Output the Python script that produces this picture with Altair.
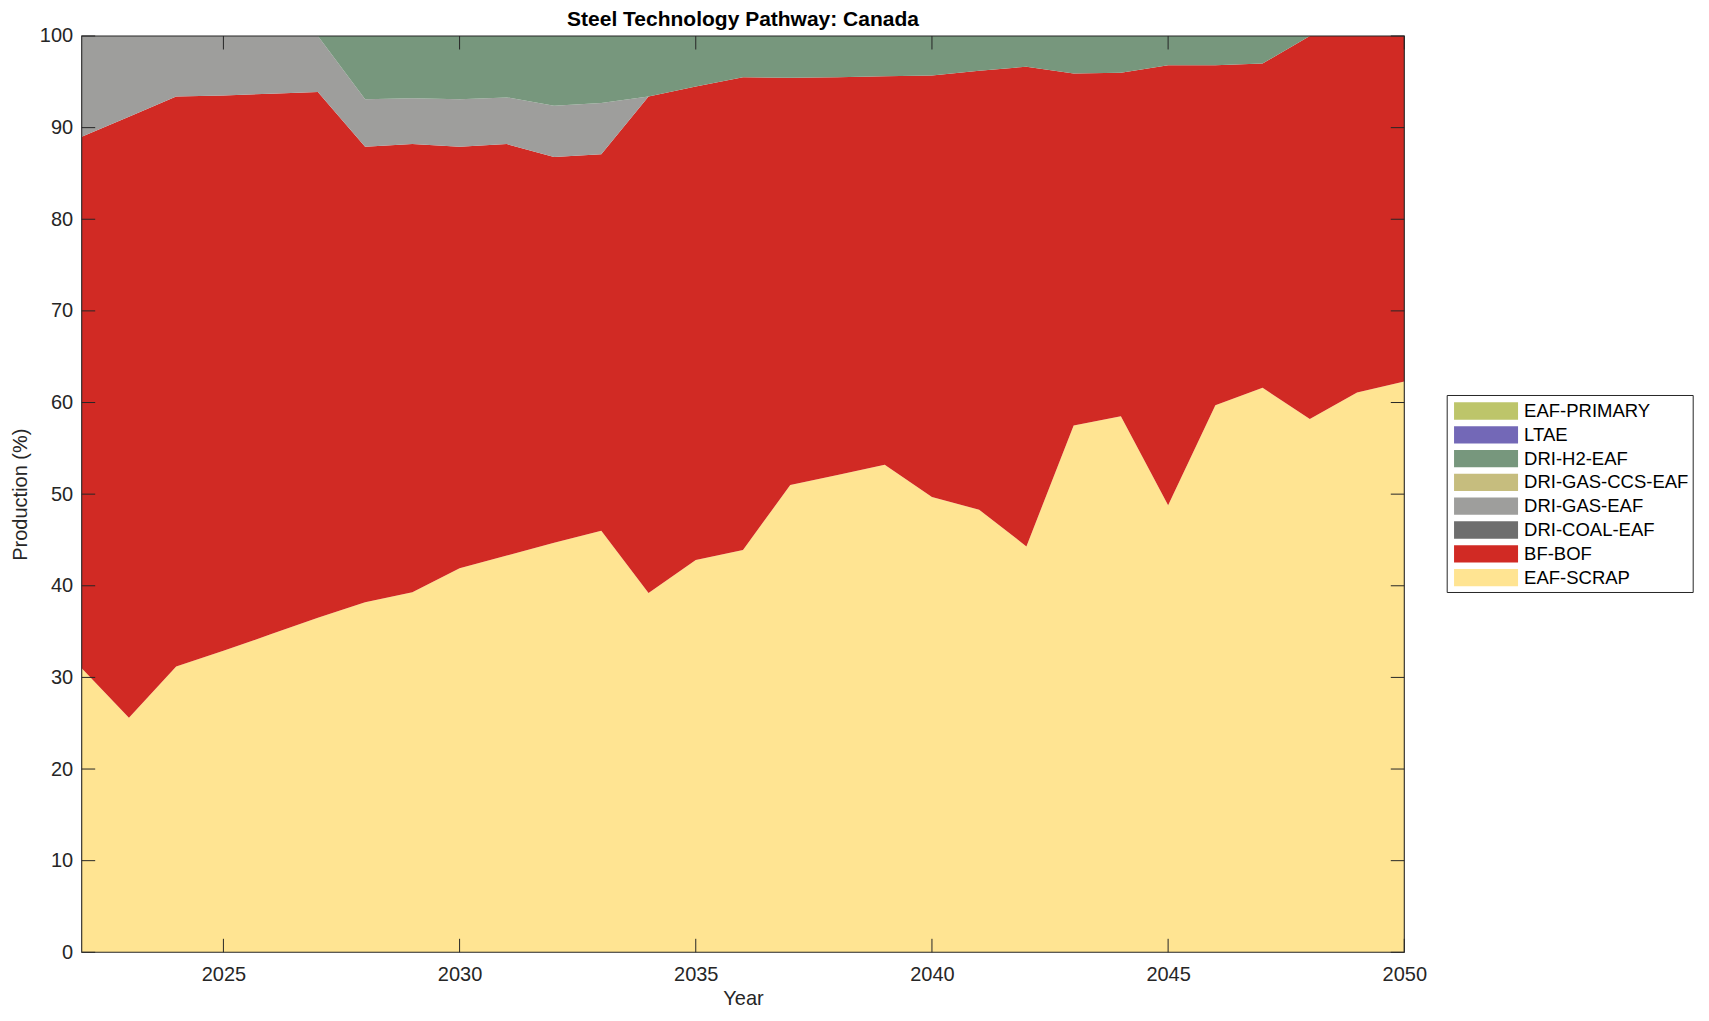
import altair as alt
import pandas as pd

years = list(range(2022, 2051))

techs = ["EAF-PRIMARY", "LTAE", "DRI-H2-EAF", "DRI-GAS-CCS-EAF",
         "DRI-GAS-EAF", "DRI-COAL-EAF", "BF-BOF", "EAF-SCRAP"]
colors = ["#bdc56a", "#7368b7", "#77977d", "#c6bd7e",
          "#9e9e9c", "#6e6e6e", "#d12a24", "#ffe492"]

eaf_scrap = [31.0, 25.6, 31.2, 32.9, 34.7, 36.5, 38.2, 39.3, 41.9, 43.3,
             44.7, 46.0, 39.2, 42.8, 43.9, 51.0, 52.1, 53.2, 49.7, 48.3,
             44.3, 57.5, 58.5, 48.8, 59.7, 61.6, 58.2, 61.1, 62.3]
bf_bof = [58.0, 65.6, 62.2, 60.6, 59.0, 57.4, 49.7, 48.9, 46.0, 44.9,
          42.1, 41.1, 54.2, 51.7, 51.6, 44.45, 43.4, 42.4, 46.0, 47.9,
          52.35, 38.4, 37.5, 48.0, 37.1, 35.4, 41.8, 38.9, 37.7]
dri_coal_eaf = [0, 0, 0, 0, 0, 0, 0, 0, 0, 0, 0, 0, 0, 0, 0,
                0, 0, 0, 0, 0, 0, 0, 0, 0, 0, 0, 0, 0, 0]
dri_gas_eaf = [11.0, 8.8, 6.6, 6.5, 6.3, 6.1, 5.2, 5.0, 5.2, 5.1,
               5.6, 5.6, 0, 0, 0, 0, 0, 0, 0, 0,
               0, 0, 0, 0, 0, 0, 0, 0, 0]
dri_gas_ccs_eaf = [0, 0, 0, 0, 0, 0, 0, 0, 0, 0, 0, 0, 0, 0, 0,
                   0, 0, 0, 0, 0, 0, 0, 0, 0, 0, 0, 0, 0, 0]
dri_h2_eaf = [0, 0, 0, 0, 0, 0, 6.9, 6.8, 6.9, 6.7,
              7.6, 7.3, 6.6, 5.5, 4.5, 4.55, 4.5, 4.4, 4.3, 3.8,
              3.35, 4.1, 4.0, 3.2, 3.2, 3.0, 0, 0, 0]
ltae = [0, 0, 0, 0, 0, 0, 0, 0, 0, 0, 0, 0, 0, 0, 0,
        0, 0, 0, 0, 0, 0, 0, 0, 0, 0, 0, 0, 0, 0]
eaf_primary = [0, 0, 0, 0, 0, 0, 0, 0, 0, 0, 0, 0, 0, 0, 0,
               0, 0, 0, 0, 0, 0, 0, 0, 0, 0, 0, 0, 0, 0]

x_tick_values = [2025, 2030, 2035, 2040, 2045, 2050]
y_tick_values = [0, 10, 20, 30, 40, 50, 60, 70, 80, 90, 100]

series = {
    "EAF-SCRAP": eaf_scrap,
    "BF-BOF": bf_bof,
    "DRI-COAL-EAF": dri_coal_eaf,
    "DRI-GAS-EAF": dri_gas_eaf,
    "DRI-GAS-CCS-EAF": dri_gas_ccs_eaf,
    "DRI-H2-EAF": dri_h2_eaf,
    "LTAE": ltae,
    "EAF-PRIMARY": eaf_primary,
}
stack_order = ["EAF-SCRAP", "BF-BOF", "DRI-COAL-EAF", "DRI-GAS-EAF",
               "DRI-GAS-CCS-EAF", "DRI-H2-EAF", "LTAE", "EAF-PRIMARY"]

rows = []
for name in stack_order:
    for yr, v in zip(years, series[name]):
        rows.append({"year": yr, "tech": name, "value": v,
                     "order": stack_order.index(name)})
df = pd.DataFrame(rows)

W = 1322.6
H = 916.3
TICK = 13.5
FONT = "Liberation Sans"
AX = "#262626"

xscale = alt.Scale(domain=[2022, 2050], nice=False, zero=False)
yscale = alt.Scale(domain=[0, 100], nice=False)

xaxis = alt.Axis(values=x_tick_values, format="d", title="Year",
                 ticks=False, tickSize=0, domain=False, grid=False,
                 labelFontSize=20, labelPadding=12, labelColor=AX,
                 labelFont=FONT, titleFont=FONT, titleFontSize=20,
                 titleFontWeight="normal", titleColor=AX,
                 titlePadding=4, labelFlush=False)
yaxis = alt.Axis(values=y_tick_values, format="d", title="Production (%)",
                 ticks=False, tickSize=0, domain=False, grid=False,
                 labelFontSize=20, labelPadding=9, labelColor=AX,
                 labelFont=FONT, titleFont=FONT, titleFontSize=20,
                 titleFontWeight="normal", titleColor=AX,
                 titlePadding=9, labelFlush=False)

area = alt.Chart(df).mark_area(opacity=1, interpolate="linear").encode(
    x=alt.X("year:Q", scale=xscale, axis=xaxis),
    y=alt.Y("value:Q", stack="zero", scale=yscale, axis=yaxis),
    color=alt.Color("tech:N", sort=techs,
                    scale=alt.Scale(domain=techs, range=colors),
                    legend=alt.Legend(title=None, orient="none",
                                      legendX=1365, legendY=359)),
    order=alt.Order("order:Q", sort="ascending"),
)

xt = pd.DataFrame({"t": x_tick_values})
yt = pd.DataFrame({"t": y_tick_values})

bottom_ticks = alt.Chart(xt).mark_rule(color=AX, strokeWidth=1).encode(
    x=alt.X("t:Q", scale=xscale, axis=xaxis),
    y=alt.value(H), y2=alt.value(H - TICK))
top_ticks = alt.Chart(xt).mark_rule(color=AX, strokeWidth=1).encode(
    x=alt.X("t:Q", scale=xscale, axis=xaxis),
    y=alt.value(0), y2=alt.value(TICK))
left_ticks = alt.Chart(yt).mark_rule(color=AX, strokeWidth=1).encode(
    y=alt.Y("t:Q", scale=yscale, axis=yaxis),
    x=alt.value(0), x2=alt.value(TICK))
right_ticks = alt.Chart(yt).mark_rule(color=AX, strokeWidth=1).encode(
    y=alt.Y("t:Q", scale=yscale, axis=yaxis),
    x=alt.value(W), x2=alt.value(W - TICK))

frame = alt.Chart(pd.DataFrame({"a": [0]})).mark_rect(
    fill=None, stroke=AX, strokeWidth=1.1).encode(
    x=alt.value(0), x2=alt.value(W), y=alt.value(0), y2=alt.value(H))

# legend swatch geometry: 64 x 17.3 px rectangles
R = 23.9
SYM_OFF = 32 - R / 2 + 3.3
chart = alt.layer(area, bottom_ticks, top_ticks, left_ticks, right_ticks, frame).properties(
    width=W, height=H,
    title=alt.TitleParams("Steel Technology Pathway: Canada", fontSize=21,
                          fontWeight="bold", font=FONT, color="black",
                          offset=5, dy=9, anchor="middle"),
    autosize=alt.AutoSizeParams(type="none"),
    padding={"left": 73.7, "top": 28, "right": 294, "bottom": 57},
).configure_view(stroke=None).configure_legend(
    symbolType="M-2.678,-0.724H2.678V0.724H-2.678Z",
    symbolSize=R * R,
    symbolStrokeWidth=0,
    symbolOpacity=1,
    symbolOffset=SYM_OFF,
    labelFontSize=18.5,
    labelFont=FONT,
    labelColor="black",
    labelOffset=73.3 - R - SYM_OFF,
    rowPadding=1.8,
    padding=4,
    strokeColor=AX,
    fillColor="white",
    labelLimit=400,
)

chart.save("out.html", embed_options={"renderer": "svg", "actions": False})
